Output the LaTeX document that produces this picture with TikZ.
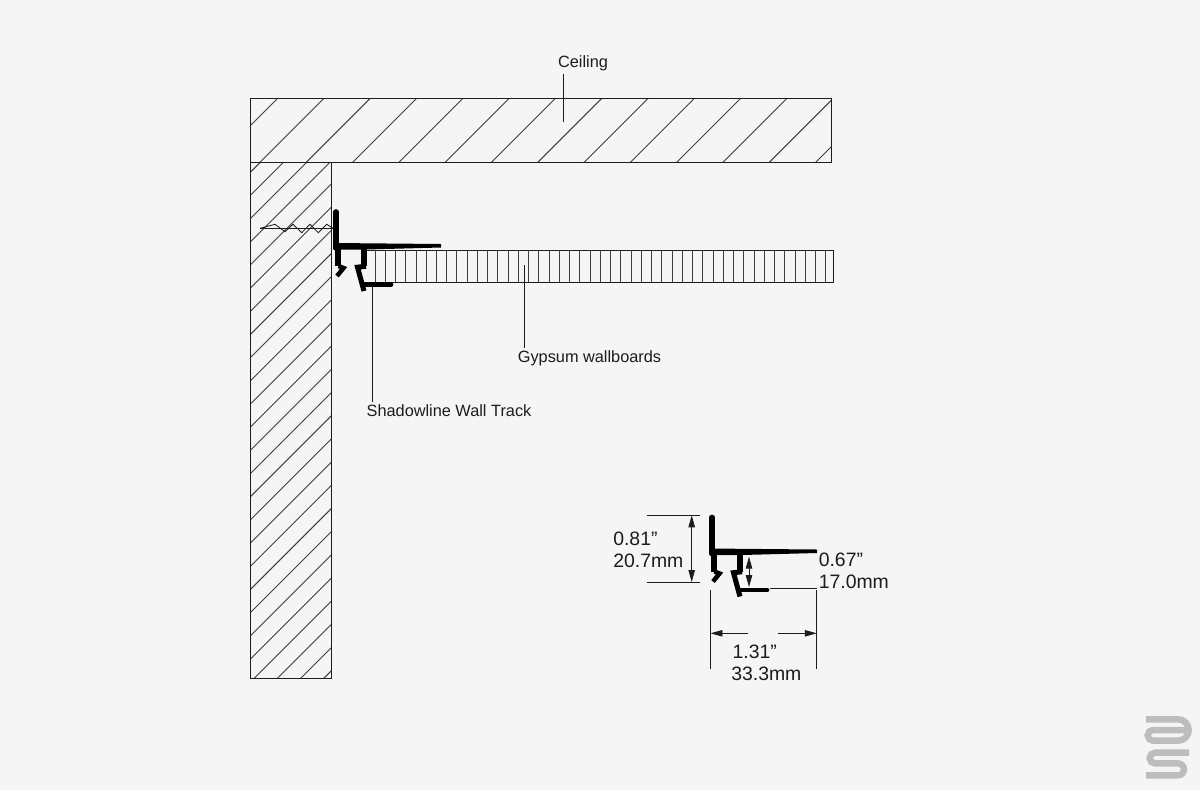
\documentclass[tikz,border=0pt]{standalone}
\usepackage{fontspec}
\setmainfont{Liberation Sans}
\usepackage{tikz}
\usetikzlibrary{arrows.meta}
\definecolor{paper}{HTML}{F5F5F5}
\definecolor{ink}{HTML}{1C1C1C}
\definecolor{logogray}{HTML}{BDBDBD}
\tikzstyle{outline} = [draw=ink, line width=0.7pt]
\tikzstyle{hatch} = [draw=ink!85, line width=0.65pt]
\tikzstyle{leader} = [draw=ink, line width=0.6pt]
\tikzstyle{dimline} = [draw=ink, line width=0.6pt]
\tikzstyle{dimarrow} = [draw=ink, line width=0.6pt, {Triangle[length=8.5pt,width=4.6pt]}-{Triangle[length=8.5pt,width=4.6pt]}]
\tikzstyle{dimhalf} = [draw=ink, line width=0.6pt, -{Triangle[length=8.5pt,width=4.6pt]}]
\tikzstyle{callout} = [font=\fontsize{11.6}{14}\selectfont, text=ink, inner sep=0pt, outer ysep=2pt]
\tikzstyle{dimtext} = [font=\fontsize{13.8}{15.8}\selectfont, text=ink, inner sep=0pt, align=left, anchor=west]
\tikzstyle{logostroke} = [draw=logogray, line width=4.6pt]
\tikzset{
  wall track/.pic={
    \fill[black] (-2.5,-3) -- (105,-2) -- (105,1.5) -- (30,3.5) -- (-2.5,3.5) -- cycle;
    \draw[black, line width=4pt, line cap=round] (0,-34) -- (0,2);
    \draw[black, line width=4pt] (2,2) -- (2,20);
    \draw[black, line width=3.2pt, line join=miter] (2.5,20) -- (7.5,22) -- (1,30);
    \draw[black, line width=4pt] (28,2) -- (28,20);
    \draw[black, line width=3.6pt, line join=miter] (30,20.2) -- (21.5,21.2) -- (28,45);
    \draw[black, line width=3.4pt, line cap=round] (28,38.5) -- (55,38.5);
  }
}

\begin{document}
\begin{tikzpicture}[x=0.025cm, y=-0.025cm]
\useasboundingbox (0,0) rectangle (1200,790);
\fill[paper] (0,0) rectangle (1200,790);
% Hatching
\begin{scope}
\clip (250.5,98) rectangle (831,162);
\foreach \k in {0,...,13}
  \draw[hatch] ({376+46.3*\k-200},200) -- ({376+46.3*\k},0);
\end{scope}
\begin{scope}
\clip (250.5,162) rectangle (331,678);
\foreach \k in {0,...,25}
  \draw[hatch] ({422.6+23.18*\k-700},700) -- ({422.6+23.18*\k-100},100);
\end{scope}
\draw[outline] (250.5,98) rectangle (831,162);
\draw[outline] (250.5,162) rectangle (331,678);
% Wallboards
\draw[outline] (367,250.3) -- (833.7,250.3) -- (833.7,282.3) -- (367,282.3);
\foreach \k in {0,...,44}
  \draw[hatch] ({375+10.243*\k},250.3) -- ({375+10.243*\k},282.3);
% Anchor
\draw[leader] (260,228.3) -- (333,228.3);
\draw[draw=ink, line width=0.6pt] (260,228.3) -- (275,224.3) -- (285,231.7) -- (293,224.3) -- (301.7,232.7) -- (310,224.3) -- (318.3,232.7) -- (326.7,224.3) -- (333,228.3);
% Tracks
\pic at (336,246) {wall track};
\pic at (712,551.5) {wall track};
% Place nodes
\node [callout] (ceiling) at (583,63.5) {Ceiling};
\node [callout] (gypsum) at (589.5,358.5) {Gypsum wallboards};
\node [callout] (shadowline) at (449,411) {Shadowline Wall Track};
\node [dimtext] (height) at (613,549.5) {0.81”\\20.7mm};
\node [dimtext] (legheight) at (818.5,571) {0.67”\\17.0mm};
\node [dimtext] (width) at (731,663) {\hspace*{1pt}1.31”\\33.3mm};
\coordinate (ceilingend) at (563,122);
\coordinate (gypsumend) at (524,265);
\coordinate (trackend) at (372,285);
\coordinate (heighttop) at (646.7,515.3);
\coordinate (heightbottom) at (646.7,582);
\coordinate (heightarrowtop) at (691.7,515.3);
\coordinate (heightarrowbottom) at (691.7,582);
\coordinate (legtop) at (749,556.7);
\coordinate (legbottom) at (749,587);
\coordinate (footright) at (770,588.7);
\coordinate (widthleft) at (710.5,590);
\coordinate (widthright) at (816.7,590);
\coordinate (widthleftend) at (710.5,669);
\coordinate (widthrightend) at (816.7,669);
\coordinate (widthleftarrow) at (748.3,633.3);
\coordinate (widthrightarrow) at (778.3,633.3);
% Leaders
\path [leader] (ceilingend) -- (ceilingend |- ceiling.south);
\path [leader] (gypsumend) -- (gypsumend |- gypsum.north);
\path [leader] (trackend) -- (trackend |- shadowline.north);
% Dimensions
\path [dimline] (heighttop) -- ++(53.5,0);
\path [dimline] (heightbottom) -- ++(53.5,0);
\path [dimarrow] (heightarrowtop) -- (heightarrowbottom);
\path [dimarrow] (legtop) -- (legbottom);
\path [dimline] (footright) -- (footright -| widthright);
\path [dimline] (widthleft) -- (widthleftend);
\path [dimline] (widthright) -- (widthrightend);
\path [dimhalf] (widthleftarrow) -- (widthleftarrow -| widthleft);
\path [dimhalf] (widthrightarrow) -- (widthrightarrow -| widthright);
% Logo
\draw[logostroke] (1146,719.3) -- (1178,719.3) arc[start angle=-90, end angle=90, radius=10.7] -- (1153,740.7) arc[start angle=90, end angle=270, radius=5.35] -- (1186,730);
\draw[logostroke] (1189,752.7) -- (1155,752.7) arc[start angle=270, end angle=90, radius=5.35] -- (1178,763.4) arc[start angle=-90, end angle=90, radius=5.95] -- (1146,775.3);
\end{tikzpicture}
\end{document}
